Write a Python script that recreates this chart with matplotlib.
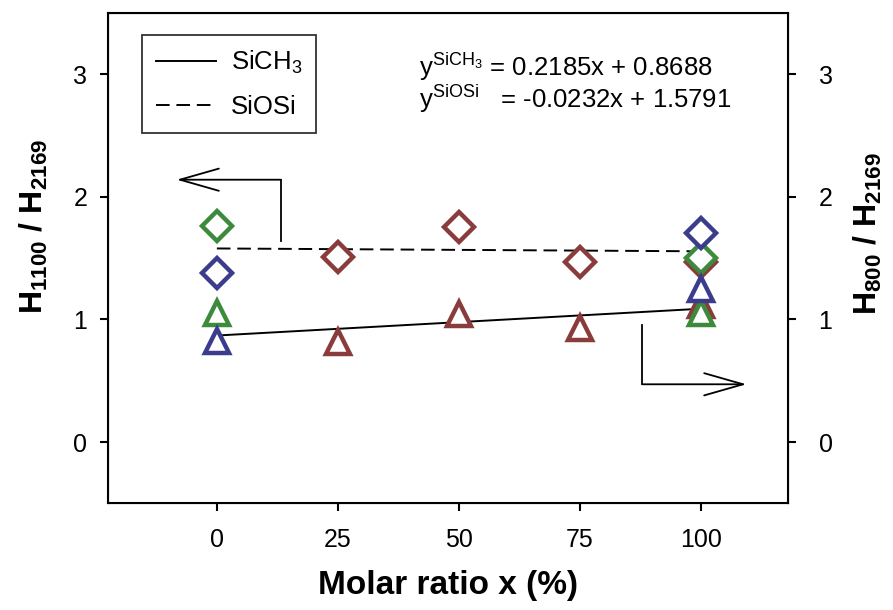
import matplotlib
matplotlib.use("Agg")
import matplotlib.pyplot as plt
import numpy as np

plt.rcParams["font.family"] = ["Liberation Sans", "DejaVu Sans"]
plt.rcParams["mathtext.fontset"] = "custom"
plt.rcParams["mathtext.rm"] = "Liberation Sans"
plt.rcParams["mathtext.it"] = "Liberation Sans:italic"
plt.rcParams["mathtext.bf"] = "Liberation Sans:bold"

# molar ratio x (%) and peak-height ratios per sample set
red_x = [25, 50, 75, 100]
red_sich3 = [0.818, 1.044, 0.927, 1.117]
red_siosi = [1.507, 1.756, 1.471, 1.471]

green_x = [0, 100]
green_sich3 = [1.052, 1.050]
green_siosi = [1.762, 1.498]

blue_x = [0, 100]
blue_sich3 = [0.826, 1.245]
blue_siosi = [1.376, 1.702]

# linear fits, y = slope * (x / 100) + intercept
sich3_fit = (0.2185, 0.8688)
siosi_fit = (-0.0232, 1.5791)

x_ticks = [0, 25, 50, 75, 100]
y_ticks = [0, 1, 2, 3]

RED = "#8a3c3c"
GREEN = "#3d8a3d"
BLUE = "#3c3c8c"

fig = plt.figure(figsize=(8.93, 6.10), dpi=100)
ax = fig.add_axes([0.1209, 0.1749, 0.7615, 0.8038])

x_fit = np.array([0, 100])
line_ch3, = ax.plot(x_fit, sich3_fit[0] * x_fit / 100 + sich3_fit[1],
                    color="black", lw=1.4, label=r"SiCH$_3$")
line_oso, = ax.plot(x_fit, siosi_fit[0] * x_fit / 100 + siosi_fit[1],
                    color="black", lw=1.4, dashes=(7, 3.5), label="SiOSi")

for xs, tri, dia, col in [(red_x, red_sich3, red_siosi, RED),
                          (green_x, green_sich3, green_siosi, GREEN),
                          (blue_x, blue_sich3, blue_siosi, BLUE)]:
    ax.plot(xs, dia, ls="none", marker="D", ms=15.5, mfc="white",
            mec=col, mew=3.2)
    ax.plot(xs, tri, ls="none", marker="^", ms=17.5, mfc="white",
            mec=col, mew=3.2)

# elbow arrows pointing to the axis each series belongs to
arrow = dict(arrowstyle="->,head_length=1.4,head_width=0.4", lw=1.3,
             color="black", mutation_scale=20, shrinkA=0, shrinkB=0)
ax.plot([13.2, 13.2], [1.64, 2.14], color="black", lw=1.3)
ax.annotate("", xy=(-8.3, 2.14), xytext=(13.2, 2.14), arrowprops=arrow)
ax.plot([87.9, 87.9], [0.953, 0.471], color="black", lw=1.3)
ax.annotate("", xy=(109.4, 0.471), xytext=(87.9, 0.471), arrowprops=arrow)

ax.set_xlim(-22.5, 118)
ax.set_ylim(-0.5, 3.5)
ax.set_xticks(x_ticks)
ax.set_yticks(y_ticks)

for s in ax.spines.values():
    s.set_linewidth(1.5)
ax.tick_params(axis="x", direction="out", length=6, width=1.5,
               labelsize=18, pad=12, top=False)
ax.tick_params(axis="y", direction="out", length=6, width=1.5,
               labelsize=18, pad=9, right=False)

ax2 = ax.twinx()
ax2.set_ylim(ax.get_ylim())
ax2.set_yticks(y_ticks)
ax2.tick_params(axis="y", direction="out", length=6, width=1.5,
                labelsize=18, pad=16)

ax.set_xlabel("Molar ratio x (%)", fontsize=24, fontweight="bold", labelpad=13)
ax.set_ylabel(r"$\mathbf{H_{1100}\ /\ H_{2169}}$", fontsize=23)
ax.yaxis.set_label_coords(-0.085, 0.5655)
ax2.set_ylabel(r"$\mathbf{H_{800}\ /\ H_{2169}}$", fontsize=23)
ax2.yaxis.set_label_coords(1.094, 0.549)

leg = ax.legend(handles=[line_ch3, line_oso], loc="upper left",
                bbox_to_anchor=(0.05, 0.955), borderaxespad=0,
                fontsize=18.5, fancybox=False, edgecolor="black",
                handlelength=2.35, handletextpad=0.55, borderpad=0.55,
                labelspacing=0.72)
leg.get_frame().set_linewidth(1.3)

ax.text(0.457, 0.871, r"y$^{\mathrm{SiCH_3}}$ = 0.2185x + 0.8688",
        transform=ax.transAxes, fontsize=18.5, va="baseline", ha="left")
ax.text(0.457, 0.806, r"y$^{\mathrm{SiOSi}}$   = -0.0232x + 1.5791",
        transform=ax.transAxes, fontsize=18.5, va="baseline", ha="left")

fig.savefig("out.png", dpi=100)
